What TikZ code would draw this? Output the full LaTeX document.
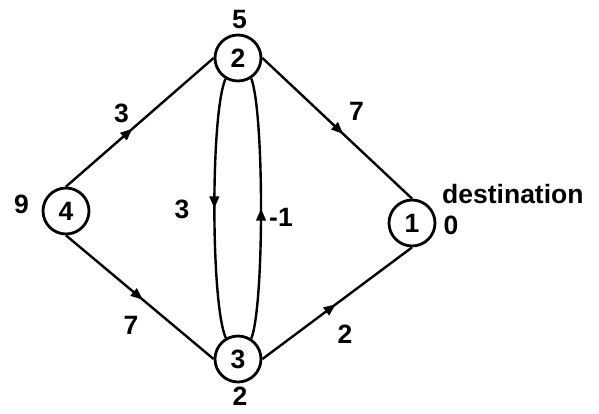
\documentclass[tikz,border=0pt]{standalone}
\usepackage{fontspec}
\setmainfont{Liberation Sans}
\usetikzlibrary{arrows.meta,decorations.markings}
\begin{document}
\begin{tikzpicture}[x=1pt,y=-1pt,
  vertex/.style={circle,draw,line width=2.8pt,minimum size=46pt,inner sep=0pt,font=\fontsize{26.5}{26.5}\selectfont\bfseries},
  lbl/.style={inner sep=0pt,font=\fontsize{26.5}{26.5}\selectfont\bfseries},
  edge/.style={line width=2.4pt},
  midarrow/.style={postaction={decorate},decoration={markings,mark=at position #1 with {\arrow{Triangle[length=12pt,width=9.5pt]}}}}
]
\useasboundingbox (0,0) rectangle (599,413);
\node[vertex] (n4) at (66,211) {4};
\node[vertex] (n2) at (238,58) {2};
\node[vertex] (n3) at (238,359) {3};
\node[vertex] (n1) at (412,223) {1};

\draw[edge,midarrow=0.45] (n4.north) -- (n2.west);
\draw[edge,midarrow=0.52] (n4.south) -- (n3.west);
\draw[edge,midarrow=0.54] (n2.east) -- (n1.north);
\draw[edge,midarrow=0.49] (n3.east) -- (n1.south);

\draw[edge,midarrow=0.5] (n2.-121) .. controls +(-15,35) and +(-15,-33) .. (n3.120);
\draw[edge,midarrow=0.5] (n3.57) .. controls +(13,-33) and +(13,35) .. (n2.-57);

\node[lbl] (w4) at (21.5,204) {9};
\node[lbl] (w2) at (239.5,20) {5};
\node[lbl] (w3) at (240,396) {2};
\node[lbl] (w1) at (451,225) {0};
\node[lbl,anchor=base west] (dest) at (442,203) {destination};
\node[lbl] (c42) at (121.5,113.5) {3};
\node[lbl] (c43) at (131,325.5) {7};
\node[lbl] (c21) at (356.5,111) {7};
\node[lbl] (c31) at (345,334) {2};
\node[lbl] (c23) at (182,209.5) {3};
\node[lbl] (c32) at (281,217) {-1};
\end{tikzpicture}
\end{document}
